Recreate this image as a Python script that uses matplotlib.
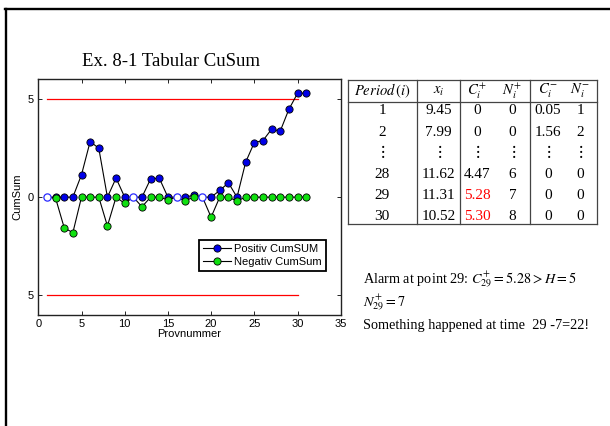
import matplotlib
matplotlib.use("Agg")
import matplotlib.pyplot as plt
from matplotlib.lines import Line2D
import numpy as np

plt.rcParams['mathtext.fontset'] = 'stix'

# ---------------- data ----------------
sample = list(range(1, 32))
pos_cusum = [0, 0, 0, 0, 1.14, 2.83, 2.49, 0, 0.97, 0, 0, 0, 0.93, 0.97, 0, 0,
             0, 0.10, 0, 0, 0.34, 0.73, 0, 1.78, 2.78, 2.88, 3.46, 3.36, 4.47, 5.28, 5.30]
neg_cusum = [0, -0.05, -1.56, -1.81, 0, 0, 0, -1.47, 0, -0.32, 0, -0.49, 0, 0, -0.14, 0,
             -0.19, 0, 0, -1.02, 0, 0, -0.20, 0, 0, 0, 0, 0, 0, 0, 0]
both_zero = [1, 11, 16, 19]
H_level = 5
H_x = [1, 30]
yticks = [-5, 0, 5]
ytick_labels = ['5', '0', '5']
xticks = [0, 5, 10, 15, 20, 25, 30, 35]

table_header = [r'$Period\,(i)$', r'$x_i$', r'$C_i^{+}$', r'$N_i^{+}$', r'$C_i^{-}$', r'$N_i^{-}$']
table_rows = [
    ['1', '9.45', '0', '0', '0.05', '1'],
    ['2', '7.99', '0', '0', '1.56', '2'],
    [r'$\vdots$'] * 6,
    ['28', '11.62', '4.47', '6', '0', '0'],
    ['29', '11.31', '5.28', '7', '0', '0'],
    ['30', '10.52', '5.30', '8', '0', '0'],
]
red_cells = [(4, 2), (5, 2)]

# ---------------- figure ----------------
W, Hh = 610, 426
fig = plt.figure(figsize=(W / 100, Hh / 100), dpi=100)

def fx(px):
    return px / W

def fy(py):
    return 1 - py / Hh

# slide borders
fig.add_artist(Line2D([fx(6), fx(6)], [fy(8.5), 0], color='black', lw=1.7, transform=fig.transFigure))
fig.add_artist(Line2D([fx(5), 1], [fy(8.5), fy(8.5)], color='black', lw=1.7, transform=fig.transFigure))

ax = fig.add_axes([fx(38.3), fy(315), fx(340.7) - fx(38.3), fy(79.3) - fy(315)])

sans = 'Liberation Sans'
fs = 8
ax.plot(H_x, [H_level, H_level], color='#ff0000', lw=0.9, zorder=1)
ax.plot(H_x, [-H_level, -H_level], color='#ff0000', lw=0.9, zorder=1)

x = np.array(sample)
p = np.array(pos_cusum)
n = np.array(neg_cusum)
mask = ~np.isin(x, both_zero)

ax.plot(x, p, color='black', lw=0.8, zorder=2)
ax.plot(x[mask], p[mask], ls='none', marker='o', ms=5.2, mfc='#0000e8', mec='black', mew=0.6, zorder=3)
ax.plot(x, n, color='black', lw=0.8, zorder=4)
ax.plot(x[mask], n[mask], ls='none', marker='o', ms=5.2, mfc='#10e010', mec='black', mew=0.6, zorder=5)
ax.plot(both_zero, [0] * len(both_zero), ls='none', marker='o', ms=5.2, mfc='white', mec='#2a2aff', mew=0.9, zorder=6)

ax.set_xlim(0, 35)
ax.set_ylim(-6, 6)
ax.set_xticks(xticks)
ax.set_xticklabels([str(t) for t in xticks], fontfamily=sans, fontsize=fs)
ax.set_yticks(yticks)
ax.set_yticklabels(ytick_labels, fontfamily=sans, fontsize=fs)
ax.tick_params(direction='in', length=3, width=0.6, top=True, right=True, pad=3, colors='black')
for s in ax.spines.values():
    s.set_linewidth(1.0)
    s.set_color('#222222')

ax.set_xlabel('Provnummer', fontfamily=sans, fontsize=fs)
ax.xaxis.set_label_coords(0.5, -0.058)
ax.set_ylabel('CumSum', fontfamily=sans, fontsize=fs)
ax.yaxis.set_label_coords(-0.052, 0.5)

h1 = Line2D([], [], color='black', lw=0.8, marker='o', ms=5.2, mfc='#0000e8', mec='black', mew=0.6)
h2 = Line2D([], [], color='black', lw=0.8, marker='o', ms=5.2, mfc='#10e010', mec='black', mew=0.6)
leg = ax.legend([h1, h2], ['Positiv CumSUM', 'Negativ CumSum'], loc='lower right',
                bbox_to_anchor=(0.951, 0.187), borderaxespad=0, fancybox=False, framealpha=1,
                edgecolor='black', prop={'family': sans, 'size': fs}, handlelength=2.5,
                handletextpad=0.3, borderpad=0.35, labelspacing=0.3)
leg.get_frame().set_linewidth(1.3)

fig.text(fx(170.5), fy(61), 'Ex. 8-1 Tabular CuSum', ha='center', va='center',
         fontfamily='Liberation Serif', fontsize=13.5)

# ---------------- table ----------------
tl, tr = 348, 597
ttop, thead, tbot = 80, 102, 224
vlines = [348, 417, 460, 530, 597]
col_cx = [382, 438.5, 477, 512.5, 548, 580]
row_cy = [111, 132, 151, 174, 195.5, 216]
tcol = '#444444'
for yy in [ttop, thead, tbot]:
    fig.add_artist(Line2D([fx(tl), fx(tr)], [fy(yy), fy(yy)], color=tcol, lw=0.9, transform=fig.transFigure))
for xx in vlines:
    fig.add_artist(Line2D([fx(xx), fx(xx)], [fy(ttop), fy(tbot)], color=tcol, lw=0.9, transform=fig.transFigure))

serif = 'Liberation Serif'
for j, h in enumerate(table_header):
    fig.text(fx(col_cx[j]), fy(91), h, ha='center', va='center', fontfamily=serif, fontsize=10.5)
for i, row in enumerate(table_rows):
    for j, v in enumerate(row):
        c = '#ff0000' if (i, j) in red_cells else 'black'
        size = 12 if v.startswith('$') else 11
        fig.text(fx(col_cx[j]), fy(row_cy[i]), v, ha='center', va='center', fontfamily=serif,
                 fontsize=size, color=c)

# ---------------- notes ----------------
nfs = 10.3
fig.text(fx(363), fy(280), r'Alarm at point 29: $C_{29}^{+}=5.28>H=5$', ha='left', va='center',
         fontfamily=serif, fontsize=nfs)
fig.text(fx(363), fy(303), r'$N_{29}^{+}=7$', ha='left', va='center', fontfamily=serif, fontsize=nfs)
fig.text(fx(363), fy(326), 'Something happened at time  29 -7=22!', ha='left', va='center',
         fontfamily=serif, fontsize=nfs)

fig.savefig('out.png', dpi=100)
